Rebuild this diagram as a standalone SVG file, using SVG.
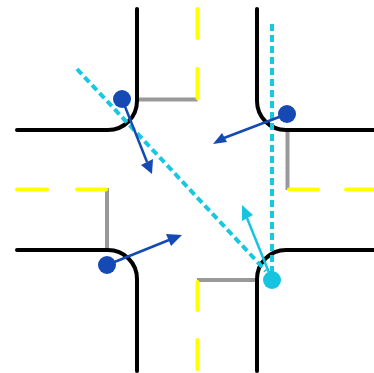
<svg xmlns="http://www.w3.org/2000/svg" width="374" height="373" viewBox="0 0 374 373">
<style>
.kerb{fill:none;stroke:#000;stroke-width:4;stroke-linecap:round}
.stop{fill:none;stroke:#999;stroke-width:4}
.lane{fill:none;stroke:#ff0;stroke-width:4;stroke-linecap:round}
.dash{fill:none;stroke:#16c8e0;stroke-width:4;stroke-dasharray:7 4}
.blue{fill:#1549b3}
.cyan{fill:#16c4e0}
.ablue{stroke:#1549b3;stroke-width:2.500;fill:none}
.acyan{stroke:#16c4e0;stroke-width:2.500;fill:none}
</style>
<rect width="374" height="373" fill="#fff"/>
<g id="road">
<path class="stop" d="M137 99.500H197.500M287.500 130V190M107 188V250M197 280H257"/>
<path class="lane" d="M197.500 9V38M197.500 69V98"/>
<path class="lane" d="M17 189.500H47M77 189.500H106"/>
<path class="lane" d="M289 189.500H318M346 189.500H374"/>
<path class="lane" d="M197.500 282V310M197.500 340V369"/>
<path class="kerb" d="M17 130H108A29 29 0 0 0 137 101V9"/>
<path class="kerb" d="M257 9V101A29 29 0 0 0 286 130H374"/>
<path class="kerb" d="M17 250H108A29 29 0 0 1 137 279V371"/>
<path class="kerb" d="M257 371V279A29 29 0 0 1 286 250H374"/>
</g>
<g id="connectors">
<path class="dash" d="M77 69L266 271"/>
<path class="dash" d="M272 24V272"/>
<path class="ablue" d="M122 99L147 162"/>
<polygon class="blue" points="152,174 141,165 153,159"/>
<path class="ablue" d="M287 114L224 138"/>
<polygon class="blue" points="213,144 222,133 227,142"/>
<path class="ablue" d="M107 265L169 240"/>
<polygon class="blue" points="182,235 166,234 171,246"/>
<path class="acyan" d="M272 280L247 218"/>
<polygon class="cyan" points="242,205 253,215 242,221"/>
</g>
<g id="car-nw"><circle class="blue" cx="122" cy="99" r="9"/></g>
<g id="car-ne"><circle class="blue" cx="287" cy="114" r="9"/></g>
<g id="car-sw"><circle class="blue" cx="107" cy="265" r="9"/></g>
<g id="car-se"><circle class="cyan" cx="272" cy="280" r="9"/></g>
</svg>
